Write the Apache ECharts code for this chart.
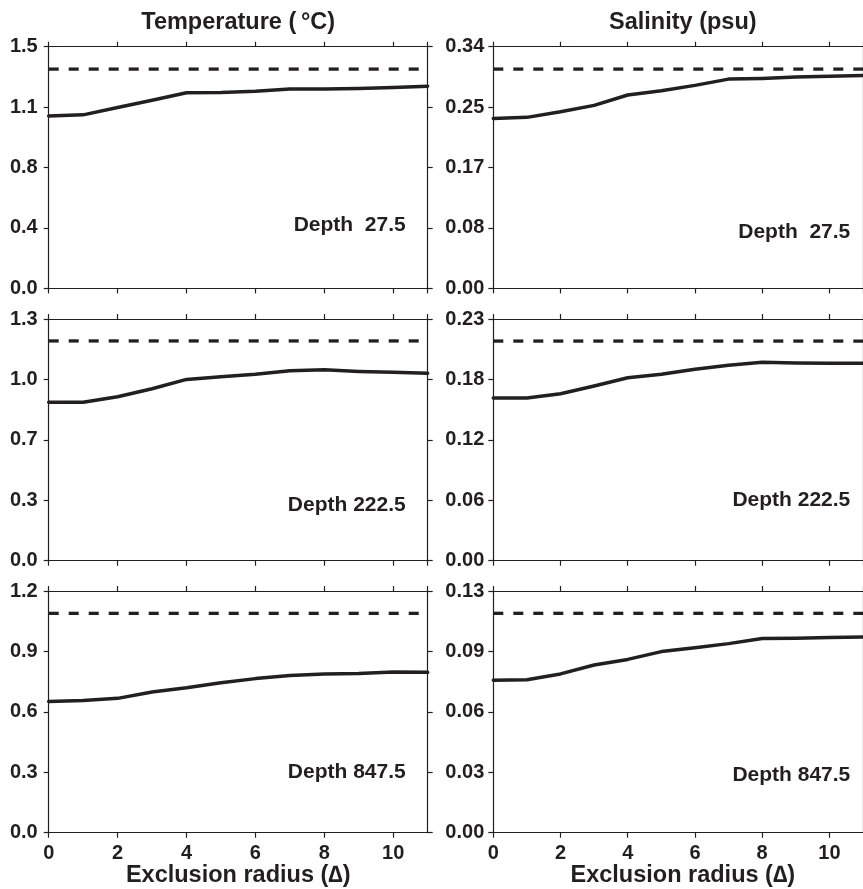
<!DOCTYPE html>
<html>
<head>
<meta charset="utf-8">
<title>Exclusion radius sensitivity</title>
<script src="https://cdn.jsdelivr.net/npm/echarts@6/dist/echarts.min.js"></script>
<style>
  html, body { margin: 0; padding: 0; background: #ffffff; }
  #chart { width: 863px; height: 889px; }
</style>
</head>
<body>
<div id="chart"></div>
<script>
// Exclusion radius (in grid spacings) along the x axis
const exclusionRadius = [0, 1, 2, 3, 4, 5, 6, 7, 8, 9, 10, 11];

// Temperature error (°C) versus exclusion radius, one curve per depth
const temp27 = [1.070, 1.077, 1.123, 1.168, 1.214, 1.216, 1.223, 1.237, 1.237, 1.240, 1.247, 1.255];
const temp222 = [0.852, 0.852, 0.882, 0.925, 0.975, 0.990, 1.003, 1.022, 1.027, 1.018, 1.013, 1.008];
const temp847 = [0.652, 0.656, 0.667, 0.699, 0.720, 0.745, 0.765, 0.780, 0.788, 0.791, 0.798, 0.796];

// Salinity error (psu) versus exclusion radius
const sal27 = [0.2390, 0.2406, 0.2485, 0.2575, 0.2720, 0.2780, 0.2856, 0.2944, 0.2954, 0.2973, 0.2986, 0.2995];
const sal222 = [0.1548, 0.1548, 0.1589, 0.1663, 0.1741, 0.1774, 0.1821, 0.1859, 0.1888, 0.1882, 0.1879, 0.1879];
const sal847 = [0.0820, 0.0823, 0.0854, 0.0902, 0.0932, 0.0974, 0.0995, 0.1017, 0.1044, 0.1046, 0.1050, 0.1053];

// Reference levels (dashed lines)
const tempReference = [1.361, 1.182, 1.089];
const salReference = [0.3085, 0.209, 0.118];

// Vertical axis ranges and their tick labels
const tempAxisMax = [1.5, 1.3, 1.2];
const salAxisMax = [0.34, 0.23, 0.13];
const tempTickLabels = [
  ['0.0', '0.4', '0.8', '1.1', '1.5'],
  ['0.0', '0.3', '0.7', '1.0', '1.3'],
  ['0.0', '0.3', '0.6', '0.9', '1.2']
];
const salTickLabels = [
  ['0.00', '0.08', '0.17', '0.25', '0.34'],
  ['0.00', '0.06', '0.12', '0.18', '0.23'],
  ['0.00', '0.03', '0.06', '0.09', '0.13']
];
const xTickLabels = ['0', '2', '4', '6', '8', '10'];

const depthNames = ['Depth  27.5', 'Depth 222.5', 'Depth 847.5'];
const columnTitles = ['Temperature (\u2009°C)', 'Salinity (psu)'];
const xAxisTitle = 'Exclusion radius (\u2206)';

// ---- layout ----
const INK = '#231f20';
const FONT = '"Liberation Sans", Arial, Helvetica, sans-serif';
const colLeft = [48.7, 493.3];
const plotW = 379;
const rowTop = [46.7, 319, 591];
const plotH = 241.7;
const labelMargin = [11, 9];
// distance of the depth label centre above each panel's bottom edge
const depthLabelRise = [[63, 56.6], [55.7, 60.7], [60, 57.2]];

const grids = [], xAxes = [], yAxes = [], series = [], graphics = [];

const columns = [
  { curves: [temp27, temp222, temp847], refs: tempReference, maxes: tempAxisMax, ticks: tempTickLabels },
  { curves: [sal27, sal222, sal847], refs: salReference, maxes: salAxisMax, ticks: salTickLabels }
];

const axisLine = { show: true, onZero: false, lineStyle: { color: INK, width: 1.2 } };
const axisTick = { show: true, inside: false, length: 5, lineStyle: { color: INK, width: 1.2 } };

for (let r = 0; r < 3; r++) {
  for (let c = 0; c < 2; c++) {
    const col = columns[c];
    const g = grids.length;
    grids.push({ left: colLeft[c], top: rowTop[r], width: plotW, height: plotH, containLabel: false });

    const ymax = col.maxes[r];
    const yint = ymax / 4;
    const labels = col.ticks[r];

    // bottom x axis (with labels on the last row)
    xAxes.push({
      type: 'value', gridIndex: g, position: 'bottom', min: 0, max: 11, interval: 2,
      axisLine: axisLine, axisTick: axisTick, splitLine: { show: false },
      axisLabel: {
        show: r === 2, showMaxLabel: false, margin: 11,
        color: INK, fontFamily: FONT, fontWeight: 'bold', fontSize: 20,
        formatter: function (v) { const i = Math.round(v / 2); return xTickLabels[i] !== undefined && Math.abs(v - i * 2) < 1e-6 ? xTickLabels[i] : ''; }
      }
    });
    // top x axis frame with ticks
    xAxes.push({
      type: 'value', gridIndex: g, position: 'top', min: 0, max: 11, interval: 2,
      axisLine: axisLine, axisTick: axisTick, splitLine: { show: false }, axisLabel: { show: false }
    });
    // left y axis
    yAxes.push({
      type: 'value', gridIndex: g, position: 'left', min: 0, max: ymax, interval: yint,
      axisLine: axisLine, axisTick: axisTick, splitLine: { show: false },
      axisLabel: {
        margin: labelMargin[c], color: INK, fontFamily: FONT, fontWeight: 'bold', fontSize: 20,
        formatter: function (v) { return labels[Math.round(v / yint)] || ''; }
      }
    });
    // right y axis frame with ticks
    yAxes.push({
      type: 'value', gridIndex: g, position: 'right', min: 0, max: ymax, interval: yint,
      axisLine: axisLine, axisTick: axisTick, splitLine: { show: false }, axisLabel: { show: false }
    });

    const xi = xAxes.length - 2, yi = yAxes.length - 2;

    series.push({
      type: 'line', xAxisIndex: xi, yAxisIndex: yi,
      data: exclusionRadius.map((x, k) => [x, col.curves[r][k]]),
      showSymbol: false, symbol: 'none', smooth: false,
      lineStyle: { color: INK, width: 3.5, cap: 'round', join: 'round' }
    });
    series.push({
      type: 'line', xAxisIndex: xi, yAxisIndex: yi,
      data: [[exclusionRadius[0], col.refs[r]], [exclusionRadius[exclusionRadius.length - 1], col.refs[r]]],
      showSymbol: false, symbol: 'none',
      lineStyle: { color: INK, width: 3.3, type: [10, 10] }
    });

    // depth annotation
    graphics.push({
      type: 'text',
      style: {
        text: depthNames[r],
        x: colLeft[c] + plotW - 22,
        y: rowTop[r] + plotH - depthLabelRise[r][c],
        align: 'right', verticalAlign: 'middle',
        font: 'bold 21px ' + FONT, fill: INK
      }
    });
  }
}

// column titles and x-axis titles
for (let c = 0; c < 2; c++) {
  graphics.push({
    type: 'text',
    style: {
      text: columnTitles[c], x: colLeft[c] + plotW / 2, y: 23,
      align: 'center', verticalAlign: 'middle', font: 'bold 23.5px ' + FONT, fill: INK
    }
  });
  graphics.push({
    type: 'text',
    style: {
      text: xAxisTitle, x: colLeft[c] + plotW / 2, y: 876,
      align: 'center', verticalAlign: 'middle', font: 'bold 23.5px ' + FONT, fill: INK
    }
  });
}

const chart = echarts.init(document.getElementById('chart'), null, { renderer: 'canvas' });
chart.setOption({
  animation: false,
  backgroundColor: '#ffffff',
  grid: grids,
  xAxis: xAxes,
  yAxis: yAxes,
  series: series,
  graphic: graphics
});
</script>
</body>
</html>
